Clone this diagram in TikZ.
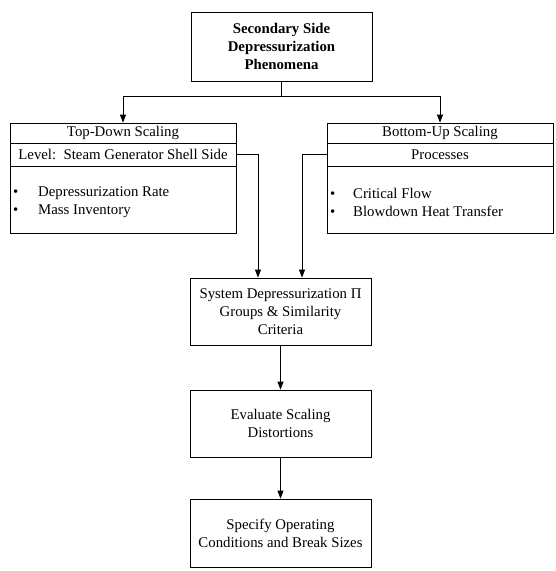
\documentclass[tikz,border=0pt]{standalone}
\usepackage{fontspec}
\setmainfont{Liberation Serif}
\usetikzlibrary{arrows.meta,calc}
\begin{document}
\begin{tikzpicture}[x=1pt,y=1pt,
  every node/.style={font=\fontsize{14.8}{18}\selectfont},
  box/.style={draw,line width=0.8pt,rectangle,inner sep=0pt,align=center},
  wire/.style={line width=0.8pt},
  arr/.style={line width=0.8pt,-{Triangle[width=6pt,length=8pt]}}]
\useasboundingbox (0,0) rectangle (555,-571);
\node[box,minimum width=181pt,minimum height=69pt,font=\fontsize{14.8}{18}\selectfont\bfseries] (top) at (281.5,-46.5)
  {Secondary Side\\Depressurization\\Phenomena};
% left compound box
\node[box,minimum width=226pt,minimum height=20pt] (ltitle) at (123,-133) {Top-Down Scaling};
\node[box,minimum width=226pt,minimum height=23pt] (llevel) at (123,-154.5) {Level:\ \ Steam Generator Shell Side};
\node[box,minimum width=226pt,minimum height=67pt] (lbody) at (123,-199.5) {};
\node[anchor=west,align=left,inner sep=0pt] (lbul) at (13,-202)
  {\makebox[25pt][l]{\textbullet}Depressurization Rate\\\makebox[25pt][l]{\textbullet}Mass Inventory};
% right compound box
\node[box,minimum width=226pt,minimum height=20pt] (rtitle) at (440,-133) {Bottom-Up Scaling};
\node[box,minimum width=226pt,minimum height=23pt] (rlevel) at (440,-154.5) {Processes};
\node[box,minimum width=226pt,minimum height=67pt] (rbody) at (440,-199.5) {};
\node[anchor=west,align=left,inner sep=0pt] (rbul) at (330,-202)
  {\makebox[23pt][l]{\textbullet}Critical Flow\\\makebox[23pt][l]{\textbullet}Blowdown Heat Transfer};
% central column
\node[box,minimum width=181pt,minimum height=67pt] (sys) at (280.5,-311.5)
  {System Depressurization Π\\Groups \& Similarity\\Criteria};
\node[box,minimum width=181pt,minimum height=67pt] (eval) at (280.5,-423.5)
  {Evaluate Scaling\\Distortions};
\node[box,minimum width=181pt,minimum height=68pt] (spec) at (280.5,-533)
  {Specify Operating\\Conditions and Break Sizes};
% connectors
\draw[wire] (top.south) -- ++(0,-15) coordinate (fork);
\draw[arr] (fork) -| (ltitle.north);
\draw[arr] (fork) -| (rtitle.north);
\draw[arr] (llevel.east) -| ([xshift=-22.5pt]sys.north);
\draw[arr] (rlevel.west) -| ([xshift=21.5pt]sys.north);
\draw[arr] (sys.south) -- (eval.north);
\draw[arr] (eval.south) -- (spec.north);
\end{tikzpicture}
\end{document}
